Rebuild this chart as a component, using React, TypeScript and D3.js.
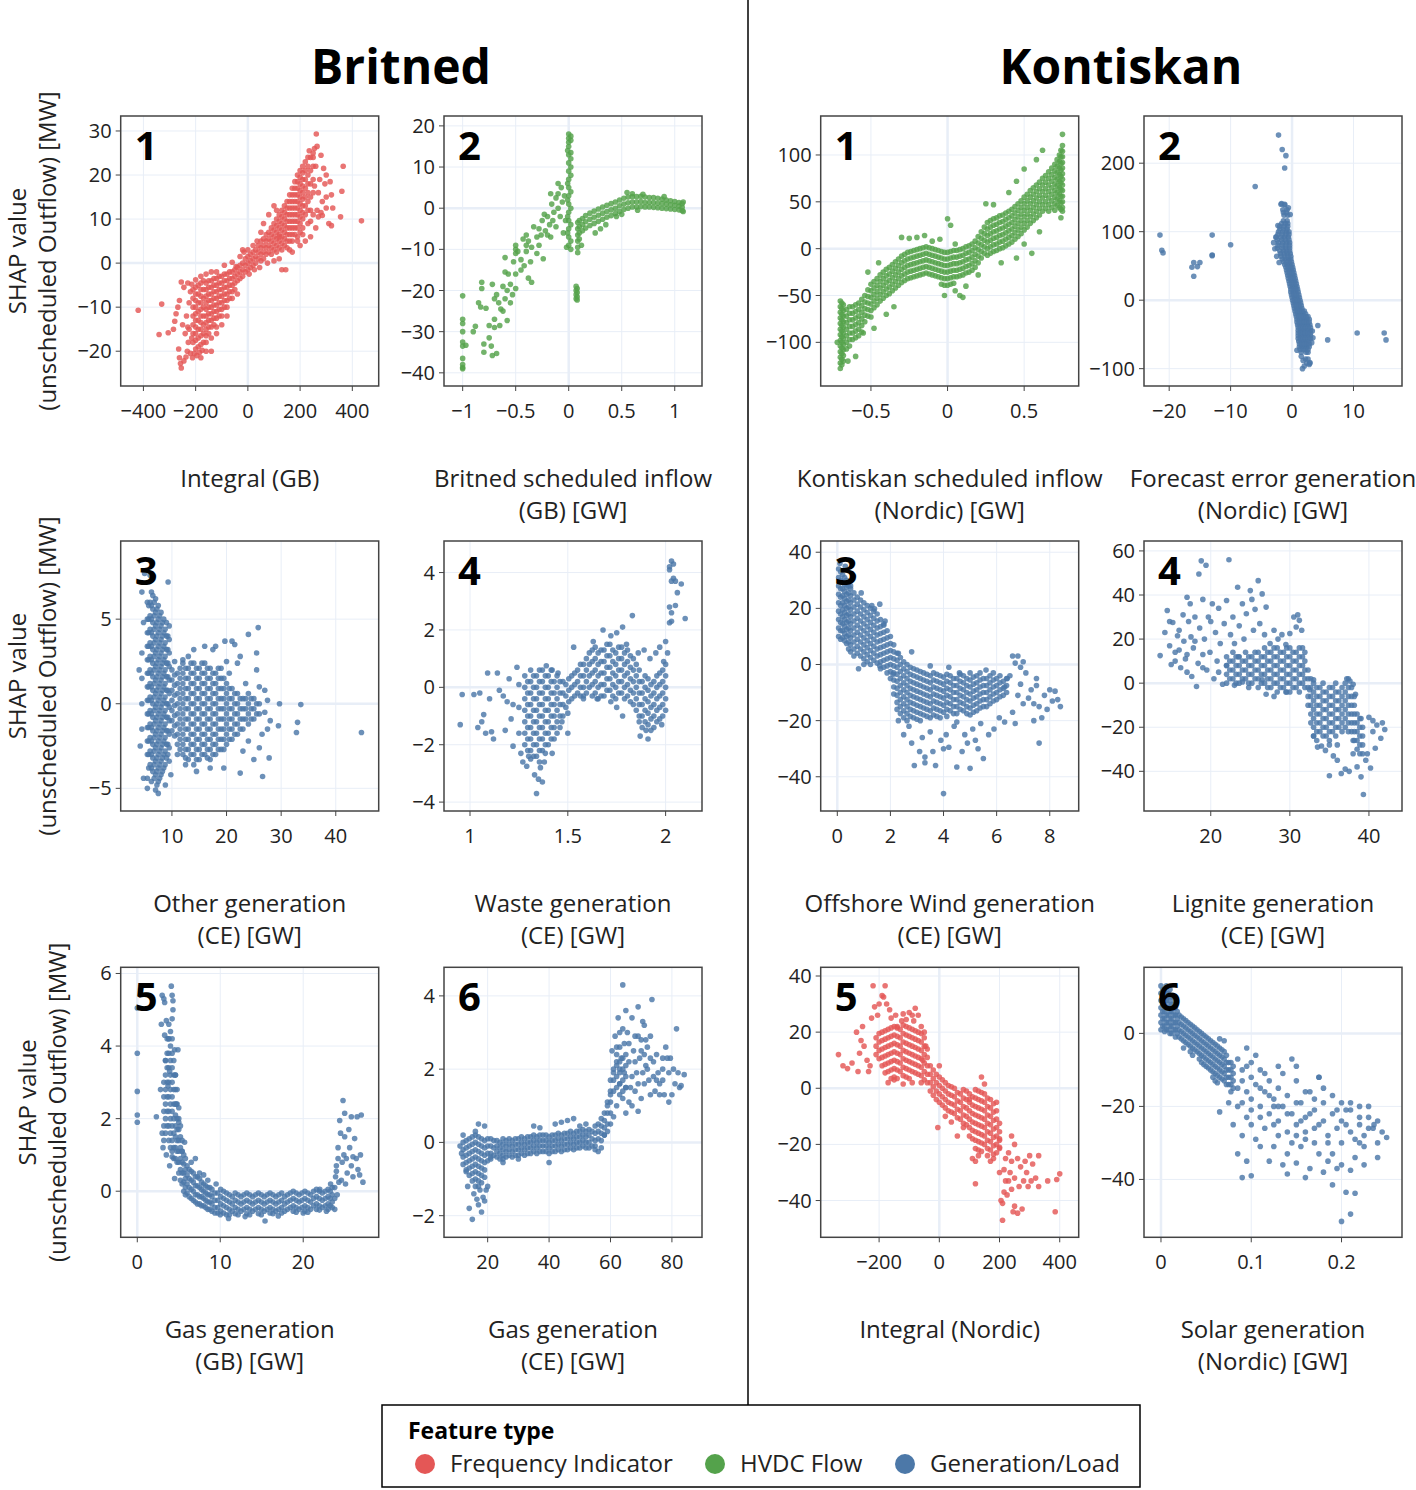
import React from 'react';
import * as d3 from 'd3';

type Col = [number, number[]];
type Pt = [number, number];

const RED = '#e45756';
const GREEN = '#54a24b';
const BLUE = '#4c78a8';

// ---------- Britned 1 : Integral (GB) ----------
const b1Cols: Col[] = [
  [-210, [-6, -8, -10, -12, -14, -16, -18]],
  [-190, [-5, -7, -9, -11, -13, -15, -17, -19]],
  [-170, [-4, -6, -8, -10, -12, -14, -16, -18]],
  [-150, [-4, -5.5, -7, -8.5, -10, -11.5, -13, -14.5, -16]],
  [-130, [-3.5, -5, -6.5, -8, -9.5, -11, -12.5, -14]],
  [-110, [-3, -4.5, -6, -7.5, -9, -10.5, -12]],
  [-90, [-2.5, -4, -5.5, -7, -8.5, -10]],
  [-70, [-2, -3.5, -5, -6.5, -8]],
  [-50, [-1.5, -3, -4.5, -6]],
  [-30, [-0.5, -2, -3.5]],
  [-10, [1, -0.5, -2]],
  [10, [2, 0.5, -1]],
  [30, [3, 1.5, 0]],
  [50, [5, 3.5, 2, 0.5]],
  [70, [6.5, 5, 3.5, 2]],
  [90, [8, 6.5, 5, 3.5, 2]],
  [110, [10, 8.5, 7, 5.5, 4, 2.5]],
  [130, [12, 10.5, 9, 7.5, 6, 4.5, 3]],
  [150, [14, 12.5, 11, 9.5, 8, 6.5, 5, 3.5]],
  [170, [17, 15.5, 14, 12.5, 11, 9.5, 8, 6.5, 5]],
  [190, [20, 18.5, 17, 15.5, 14, 12.5, 11, 9.5, 8, 6]],
  [210, [22, 20.5, 19, 17.5, 16, 14.5, 13, 11.5, 10, 8]],
  [230, [24, 22, 20, 18, 16, 14, 12]],
  [250, [25, 22, 19, 16]],
];
const b1ColsB: Col[] = [
  [-200, [-5.5, -7, -8.5, -10, -11.5, -13, -14.5, -16, -17.5]],
  [-180, [-4.5, -6, -7.5, -9, -10.5, -12, -13.5, -15, -16.5, -18.5]],
  [-160, [-4.5, -6, -7.5, -9, -10.5, -12, -13.5, -15, -16.5]],
  [-140, [-4, -5.5, -7, -8.5, -10, -11.5, -13, -14.5]],
  [-120, [-3.5, -5, -6.5, -8, -9.5, -11, -12.5]],
  [-100, [-3, -4.5, -6, -7.5, -9, -10.5]],
  [-80, [-2.5, -4, -5.5, -7, -8.5]],
  [-60, [-2, -3.5, -5, -6.5]],
  [-40, [-1, -2.5, -4]],
  [-20, [0, -1.5, -3]],
  [0, [1.5, 0, -1.5]],
  [20, [2.5, 1, -0.5]],
  [40, [4, 2.5, 1]],
  [60, [5.5, 4, 2.5, 1]],
  [80, [7, 5.5, 4, 2.5]],
  [100, [9, 7.5, 6, 4.5, 3]],
  [120, [11, 9.5, 8, 6.5, 5, 3.5]],
  [140, [13, 11.5, 10, 8.5, 7, 5.5, 4]],
  [160, [15.5, 14, 12.5, 11, 9.5, 8, 6.5, 5]],
  [180, [18.5, 17, 15.5, 14, 12.5, 11, 9.5, 8, 6.5]],
  [200, [21, 19.5, 18, 16.5, 15, 13.5, 12, 10.5, 9, 7]],
  [220, [23, 21, 19, 17, 15, 13, 11]],
  [240, [24, 21, 18, 15, 12]],
];
const b1Pts: Pt[] = [
  [-420, -10.7], [-330, -9.3], [-340, -16.2], [-305, -15.8], [-285, -15], [-280, -13.2], [-275, -11.5],
  [-268, -10], [-262, -8.5], [-255, -4.3], [-245, -5.5], [-265, -19.5], [-262, -21.5], [-255, -23.8],
  [-258, -22.8], [-245, -22.2], [-237, -21.3], [-232, -20], [-228, -18], [-240, -16], [-250, -14],
  [-235, -12], [-225, -9], [-220, -6.5], [-215, -4.8], [-230, -14.5], [-220, -20.5], [-205, -20.5],
  [-195, -21], [-185, -20.3], [-175, -19.8], [-160, -18], [-140, -17], [-120, -14.5], [-100, -12],
  [-80, -10], [-120, -2], [-90, -0.5], [-60, 0.2], [-45, -0.8], [-30, 1.5], [-15, 2.5], [0, 3],
  [5, -2.5], [25, -1.5], [45, -1], [75, 0], [100, 0.5], [120, 1], [130, -1.5], [145, -1.5], [170, 2.5],
  [200, 4], [220, 5], [240, 6], [260, 8], [240, 9.5], [270, 10.5], [285, 10.8], [300, 12.5], [300, 15],
  [310, 9], [320, 8.5], [325, 12.5], [355, 10.5], [360, 16.3], [365, 22], [435, 9.6], [320, 15.5],
  [315, 18.5], [300, 20], [290, 21.5], [280, 24.5], [275, 19], [265, 26.5], [262, 29.3], [255, 26],
  [250, 24], [235, 25.5], [260, 22], [270, 16], [285, 14], [295, 18], [255, 17.5], [265, 12], [280, 11.5],
  [250, 11], [230, 9], [210, 6.5], [190, 5], [160, 3], [120, 6], [110, 12], [100, 13], [80, 11], [60, 9],
  [50, 7], [35, 5], [20, 4], [-20, 3], [-40, -7], [-60, -8], [-80, -12], [-100, -14], [-120, -16],
  [-140, -20], [-160, -20], [-180, -21.5], [-200, -19.5], [-215, -17], [-225, -15], [-212, -21.5],
  [-230, -4.5], [-200, -3.8], [-180, -3], [-160, -2.5], [-140, -2],
];

// ---------- Britned 2 : Britned scheduled inflow ----------
const b2Cols: Col[] = [
  [0.085, [-3.5, -5, -6.5, -8, -9.5, -10.8]],
  [0.1, [-3, -4.5, -6, -7.5]],
  [0.13, [-2.5, -4, -5.5]],
  [0.16, [-1.8, -3.3, -4.8]],
  [0.2, [-1.2, -2.7, -4.2]],
  [0.24, [-0.7, -2.2, -3.7]],
  [0.28, [-0.2, -1.7, -3.2]],
  [0.32, [0.3, -1.2, -2.7]],
  [0.36, [0.7, -0.8, -2.2]],
  [0.4, [1.1, -0.4, -1.8]],
  [0.44, [1.5, 0, -1.3]],
  [0.48, [2, 0.6, -0.8]],
  [0.52, [2.4, 1, -0.3]],
  [0.56, [2.7, 1.3, 0]],
  [0.6, [2.8, 1.5, 0.3]],
  [0.64, [2.8, 1.5, 0.3]],
  [0.68, [2.9, 1.6, 0.4]],
  [0.72, [2.7, 1.4, 0.3]],
  [0.76, [2.6, 1.4, 0.3]],
  [0.8, [2.6, 1.4, 0.2]],
  [0.84, [2.4, 1.2, 0.1]],
  [0.88, [2.2, 1.1, 0]],
  [0.92, [2, 1, -0.1]],
  [0.96, [1.8, 0.8, -0.2]],
  [1.0, [1.6, 0.7, -0.3]],
  [1.04, [1.4, 0.5, -0.4]],
  [1.07, [1.1, 0.2, -0.6]],
  [0.0, [18, 17, 16, 15, 13, 11, 9, 7, 5, 3, 1, -1, -3, -5, -7, -9]],
  [0.02, [17.5, 16.5, 13.5, 12, 10, 8, 4, 0, -4, -8, -10]],
  [-0.01, [14, 6, 2, -2, -6]],
  [0.07, [-19, -20, -21, -22]],
  [0.08, [-19.5, -20.5, -21.5, -22.3]],
];
const b2Pts: Pt[] = [
  [-1, -21.3], [-1, -27], [-1, -28], [-1, -30], [-1, -32.5], [-1, -33.5], [-1, -36.5], [-1, -38],
  [-1, -38.7], [-1, -39], [-0.97, -33.3], [-0.9, -30], [-0.88, -28.7], [-0.85, -23], [-0.83, -24],
  [-0.82, -18], [-0.82, -19.5], [-0.8, -35], [-0.8, -33], [-0.78, -24.3], [-0.75, -28.5], [-0.75, -31.5],
  [-0.73, -33.5], [-0.72, -35.8], [-0.72, -18.5], [-0.7, -22], [-0.7, -27], [-0.7, -29], [-0.68, -35.3],
  [-0.68, -21], [-0.66, -23], [-0.65, -28.5], [-0.64, -24.5], [-0.62, -19], [-0.62, -25], [-0.6, -12],
  [-0.6, -15.5], [-0.6, -22], [-0.58, -27.3], [-0.58, -20], [-0.57, -16], [-0.55, -23], [-0.55, -18.5],
  [-0.53, -21], [-0.52, -13], [-0.5, -9], [-0.5, -10], [-0.5, -11], [-0.5, -16], [-0.5, -19.5],
  [-0.48, -10.5], [-0.45, -12.5], [-0.45, -15], [-0.43, -7.5], [-0.42, -14], [-0.4, -6.5], [-0.4, -9],
  [-0.4, -10.5], [-0.38, -8], [-0.38, -17], [-0.36, -13], [-0.35, -18], [-0.35, -9.5], [-0.33, -4.5],
  [-0.3, -7], [-0.3, -11], [-0.28, -5], [-0.28, -9], [-0.26, -6.5], [-0.25, -3], [-0.24, -12.3],
  [-0.22, -5.5], [-0.2, -2], [-0.2, -6.5], [-0.18, -4], [-0.17, -7], [-0.16, 1], [-0.15, -3], [-0.14, -1],
  [-0.12, 2.5], [-0.12, -4.5], [-0.1, 0], [-0.1, 3.5], [-0.08, -2], [-0.07, 5], [-0.06, 1.5], [-0.05, -6],
  [-0.04, 3], [-0.03, -3], [-0.02, -9.5], [-0.1, 6], [-0.17, 3.5], [-0.23, -1.5],
  [0.12, -9], [0.25, -6], [0.3, -5], [0.35, -4], [0.45, -2], [0.55, 3.8], [0.6, 3.5], [0.7, 3.4],
  [0.9, 2.8], [0.5, -1.5], [0.65, -0.5], [1.08, -0.8], [1.08, 1.5],
];

// ---------- Kontiskan 1 : Kontiskan scheduled inflow ----------
const k1Cols: Col[] = [
  [-0.7, [-56, -62, -68, -74, -80, -86, -92, -98, -104, -110, -116, -122, -128]],
  [-0.68, [-60, -66, -72, -78, -84, -90, -96, -102, -108, -114, -120]],
  [-0.66, [-65, -72, -79, -86, -93, -100, -107]],
  [-0.62, [-62, -69, -76, -83, -90, -97]],
  [-0.58, [-58, -65, -72, -79, -86, -93]],
  [-0.54, [-50, -57, -64, -71, -78]],
  [-0.5, [-38, -45, -52, -59, -66, -73]],
  [-0.46, [-32, -39, -46, -53, -60]],
  [-0.42, [-25, -32, -39, -46, -53]],
  [-0.38, [-20, -27, -34, -41, -48]],
  [-0.34, [-14, -21, -28, -35, -42]],
  [-0.3, [-8, -15, -22, -29, -36]],
  [-0.26, [-4, -11, -18, -25, -32]],
  [-0.22, [-2, -9, -16, -23, -30]],
  [-0.18, [0, -7, -14, -21, -28]],
  [-0.14, [2, -5, -12, -19, -26]],
  [-0.1, [0, -7, -14, -21, -28]],
  [-0.06, [-2, -9, -16, -23, -30]],
  [-0.02, [-4, -11, -18, -25, -32, -39]],
  [0.02, [-3, -10, -17, -24, -31, -38]],
  [0.06, [-2, -9, -16, -23, -30]],
  [0.1, [0, -7, -14, -21, -28]],
  [0.14, [3, -4, -11, -18, -25]],
  [0.18, [8, 1, -6, -13, -20]],
  [0.22, [18, 11, 4, -3, -10]],
  [0.26, [28, 21, 14, 7, 0, -7]],
  [0.3, [32, 25, 18, 11, 4, -3]],
  [0.34, [35, 28, 21, 14, 7, 0]],
  [0.38, [38, 31, 24, 17, 10, 3]],
  [0.42, [42, 35, 28, 21, 14, 7]],
  [0.46, [48, 41, 34, 27, 20, 13]],
  [0.5, [55, 48, 41, 34, 27, 20]],
  [0.54, [62, 55, 48, 41, 34, 27]],
  [0.58, [68, 61, 54, 47, 40, 33]],
  [0.62, [75, 68, 61, 54, 47, 40]],
  [0.66, [82, 75, 68, 61, 54, 47, 40]],
  [0.7, [90, 83, 76, 69, 62, 55, 48, 41]],
  [0.73, [100, 93, 86, 79, 72, 65, 58, 51, 44]],
  [0.75, [110, 104, 98, 92, 86, 80, 74, 68, 62, 56, 50, 44, 40]],
];
const k1ColsB: Col[] = [
  [-0.69, [-58, -64, -70, -76, -82, -88, -94, -100, -106, -112, -118, -124]],
  [-0.64, [-62, -69, -76, -83, -90, -97, -104]],
  [-0.6, [-60, -67, -74, -81, -88, -95]],
  [-0.56, [-54, -61, -68, -75, -82, -89]],
  [-0.52, [-44, -51, -58, -65, -72]],
  [-0.48, [-35, -42, -49, -56, -63]],
  [-0.44, [-28, -35, -42, -49, -56]],
  [-0.4, [-22, -29, -36, -43, -50]],
  [-0.36, [-17, -24, -31, -38, -45]],
  [-0.32, [-11, -18, -25, -32, -39]],
  [-0.28, [-6, -13, -20, -27, -34]],
  [-0.24, [-3, -10, -17, -24, -31]],
  [-0.2, [-1, -8, -15, -22, -29]],
  [-0.16, [1, -6, -13, -20, -27]],
  [-0.12, [1, -6, -13, -20, -27]],
  [-0.08, [-1, -8, -15, -22, -29]],
  [-0.04, [-3, -10, -17, -24, -31, -38]],
  [0, [-4, -11, -18, -25, -32, -39]],
  [0.04, [-2, -9, -16, -23, -30, -37]],
  [0.08, [-1, -8, -15, -22, -29]],
  [0.12, [2, -5, -12, -19, -26]],
  [0.16, [5, -2, -9, -16, -23]],
  [0.2, [13, 6, -1, -8, -15]],
  [0.24, [23, 16, 9, 2, -5]],
  [0.28, [30, 23, 16, 9, 2, -5]],
  [0.32, [33, 26, 19, 12, 5, -2]],
  [0.36, [36, 29, 22, 15, 8, 1]],
  [0.4, [40, 33, 26, 19, 12, 5]],
  [0.44, [45, 38, 31, 24, 17, 10]],
  [0.48, [51, 44, 37, 30, 23, 16]],
  [0.52, [58, 51, 44, 37, 30, 23]],
  [0.56, [65, 58, 51, 44, 37, 30]],
  [0.6, [71, 64, 57, 50, 43, 36]],
  [0.64, [78, 71, 64, 57, 50, 43]],
  [0.68, [86, 79, 72, 65, 58, 51, 44]],
  [0.715, [95, 88, 81, 74, 67, 60, 53, 46]],
  [0.74, [105, 98, 91, 84, 77, 70, 63, 56, 49, 42]],
];
const k1Pts: Pt[] = [
  [-0.72, -100], [-0.55, -90], [-0.6, -115], [-0.45, -15], [-0.35, -62], [-0.3, 12], [-0.25, 11],
  [-0.2, 12], [-0.15, 14], [-0.1, 8], [-0.05, 10], [0, 32], [0.02, 25], [0.05, 5], [0.08, -50],
  [0.1, -52], [0.05, -45], [-0.02, -50], [0.12, -40], [0.2, -28], [0.25, 48], [0.3, 47], [0.35, -15],
  [0.45, -10], [0.4, 60], [0.45, 72], [0.55, -5], [0.5, 85], [0.58, 95], [0.62, 105], [0.75, 122],
  [0.74, 33], [0.6, 18], [0.5, 5], [-0.48, -85], [-0.4, -70], [-0.52, -25], [-0.65, -120],
];

// ---------- Kontiskan 2 : Forecast error generation ----------
const k2Rows: Col[] = [
  [140, [-1.8, -1.2]], [132, [-1.5, -0.8]], [124, [-1.3, -0.7]], [116, [-1.4, -0.8]],
  [108, [-2, -1.3, -0.7]], [100, [-2.2, -1.5, -0.9, -0.5]], [92, [-2.6, -1.8, -1.2, -0.6]],
  [84, [-2.2, -1.5, -0.9, -0.4]], [76, [-2.4, -1.6, -1, -0.4]], [68, [-1.9, -1.3, -0.8, -0.3]],
  [60, [-1.6, -1.1, -0.6, -0.2]], [52, [-1.2, -0.8, -0.4, 0]], [44, [-0.9, -0.5, -0.1, 0.2]],
  [36, [-0.7, -0.3, 0.1, 0.4]], [28, [-0.5, -0.1, 0.3, 0.6]], [20, [-0.3, 0.1, 0.5, 0.8]],
  [12, [-0.2, 0.2, 0.6, 1]], [4, [0, 0.4, 0.8, 1.2]], [-4, [0.2, 0.6, 1, 1.4]],
  [-12, [0.4, 0.8, 1.2, 1.6]], [-20, [0.6, 1, 1.4, 1.8, 2.2]], [-28, [0.8, 1.2, 1.6, 2, 2.4, 2.8]],
  [-36, [0.9, 1.3, 1.7, 2.1, 2.5, 2.9]], [-44, [1, 1.4, 1.8, 2.2, 2.6, 3]],
  [-52, [1, 1.4, 1.8, 2.2, 2.6, 3]], [-60, [1.1, 1.5, 1.9, 2.3, 2.7]], [-68, [1.2, 1.6, 2, 2.4, 2.8]],
  [-76, [1.5, 2.3, 2.6]], [-86, [2.2, 2.6]], [-92, [2.4, 2.9]],
];
const k2RowsB: Col[] = [
  [128, [-1.4, -0.9]], [112, [-1.7, -1.1, -0.7]], [104, [-2, -1.4, -0.8]], [96, [-2.3, -1.6, -1, -0.5]],
  [88, [-2.4, -1.7, -1.1, -0.5]], [80, [-2.3, -1.6, -1, -0.4]], [72, [-2, -1.4, -0.9, -0.4]],
  [64, [-1.8, -1.2, -0.7, -0.2]], [56, [-1.4, -0.9, -0.5, -0.1]], [48, [-1, -0.6, -0.2, 0.1]],
  [40, [-0.8, -0.4, 0, 0.3]], [32, [-0.6, -0.2, 0.2, 0.5]], [24, [-0.4, 0, 0.4, 0.7]],
  [16, [-0.2, 0.2, 0.6, 0.9]], [8, [-0.1, 0.3, 0.7, 1.1]], [0, [0.1, 0.5, 0.9, 1.3]],
  [-8, [0.3, 0.7, 1.1, 1.5]], [-16, [0.5, 0.9, 1.3, 1.7, 2]], [-24, [0.7, 1.1, 1.5, 1.9, 2.3, 2.6]],
  [-32, [0.8, 1.2, 1.6, 2, 2.4, 2.8]], [-40, [1, 1.4, 1.8, 2.2, 2.6, 3]], [-48, [1, 1.4, 1.8, 2.2, 2.6, 3]],
  [-56, [1, 1.4, 1.8, 2.2, 2.6, 3]], [-64, [1.2, 1.6, 2, 2.4, 2.8]], [-72, [1.3, 1.8, 2.2, 2.6]],
];
const k2Pts: Pt[] = [
  [-2.2, 241], [-1.6, 220], [-1, 211], [-1.2, 193], [-6, 166], [-1.7, 141], [-1.2, 139], [-0.6, 135],
  [-0.3, 125], [-2.3, 109], [-2.6, 92], [-3, 84], [-2.8, 75], [-2.5, 64], [-2.1, 55], [-21.5, 95],
  [-21.2, 73], [-21, 69], [-16.3, 48], [-16, 55], [-15.4, 49], [-15, 55], [-16, 35], [-13, 95],
  [-13, 66], [-13, 65], [-10, 81], [4.2, -37], [5.8, -58], [10.6, -48], [15, -48], [15.3, -58],
  [0.8, -73], [1.5, -82], [1.8, -88], [2.8, -94], [2.9, -91], [1.7, -100], [2, -96], [3.3, -45],
  [3.4, -55], [3.2, -62],
];

// ---------- Britned 3 : Other generation (CE) ----------
const b3Cols: Col[] = [
  [4.5, [3, 1.5, 0, -1.5]],
  [5.5, [6, 5, 4.2, 3.4, 2.6, 1.8, 1, 0.2, -0.6, -1.4, -2.2, -3, -4.4]],
  [6, [6, 5.2, 4.4, 3.6, 2.8, 2, 1.2, 0.4, -0.4, -1.2, -2, -2.8, -3.6]],
  [6.5, [6.4, 5.6, 4.8, 4, 3.2, 2.4, 1.6, 0.8, 0, -0.8, -1.6, -2.4, -3.2, -4]],
  [7, [6.2, 5.4, 4.6, 3.8, 3, 2.2, 1.4, 0.6, -0.2, -1, -1.8, -2.6, -3.4, -4.2]],
  [7.5, [5.8, 5, 4.2, 3.4, 2.6, 1.8, 1, 0.2, -0.6, -1.4, -2.2, -3, -3.8, -4.6]],
  [8, [5.4, 4.6, 3.8, 3, 2.2, 1.4, 0.6, -0.2, -1, -1.8, -2.6, -3.4, -4.2]],
  [8.5, [5, 4.2, 3.4, 2.6, 1.8, 1, 0.2, -0.6, -1.4, -2.2, -3, -3.8]],
  [9, [4.8, 4, 3.2, 2.4, 1.6, 0.8, 0, -0.8, -1.6, -2.4, -3.2]],
  [9.5, [4.6, 3.8, 3, 2.2, 1.4, 0.6, -0.2, -1, -1.8, -2.6, -3.4]],
  [10, [2, 1.4, 0.8, 0.2, -0.4, -1, -1.6]],
  [11, [1.8, 1.2, 0.6, 0, -0.6, -1.2, -1.8, -2.4]],
  [12, [2.4, 1.8, 1.2, 0.6, 0, -0.6, -1.2, -1.8, -2.4, -3]],
  [13, [2.1, 1.5, 0.9, 0.3, -0.3, -0.9, -1.5, -2.1, -2.7, -3.3]],
  [14, [2.4, 1.8, 1.2, 0.6, 0, -0.6, -1.2, -1.8, -2.4, -3, -3.6]],
  [15, [2.1, 1.5, 0.9, 0.3, -0.3, -0.9, -1.5, -2.1, -2.7, -3.3]],
  [16, [2.4, 1.8, 1.2, 0.6, 0, -0.6, -1.2, -1.8, -2.4, -3]],
  [17, [2.1, 1.5, 0.9, 0.3, -0.3, -0.9, -1.5, -2.1, -2.7, -3.3]],
  [18, [1.8, 1.2, 0.6, 0, -0.6, -1.2, -1.8, -2.4, -3]],
  [19, [2.1, 1.5, 0.9, 0.3, -0.3, -0.9, -1.5, -2.1, -2.7]],
  [20, [1.2, 0.6, 0, -0.6, -1.2, -1.8, -2.4]],
  [21, [0.9, 0.3, -0.3, -0.9, -1.5, -2.1]],
  [22, [0.6, 0, -0.6, -1.2, -1.8]],
  [23, [0.3, -0.3, -0.9, -1.5]],
  [24, [0.6, 0, -0.6, -1.2]],
  [25, [0.3, -0.3, -0.9]],
  [26, [0, -0.6]],
];
const b3ColsB: Col[] = [
  [5.75, [5.8, 5, 4.2, 3.4, 2.6, 1.8, 1, 0.2, -0.6, -1.4, -2.2, -3, -3.8]],
  [6.25, [6.6, 5.8, 5, 4.2, 3.4, 2.6, 1.8, 1, 0.2, -0.6, -1.4, -2.2, -3, -3.8, -4.6]],
  [6.75, [6, 5.2, 4.4, 3.6, 2.8, 2, 1.2, 0.4, -0.4, -1.2, -2, -2.8, -3.6, -4.4]],
  [7.25, [5.6, 4.8, 4, 3.2, 2.4, 1.6, 0.8, 0, -0.8, -1.6, -2.4, -3.2, -4, -4.8]],
  [7.75, [5.2, 4.4, 3.6, 2.8, 2, 1.2, 0.4, -0.4, -1.2, -2, -2.8, -3.6, -4.4]],
  [8.25, [4.8, 4, 3.2, 2.4, 1.6, 0.8, 0, -0.8, -1.6, -2.4, -3.2, -4]],
  [8.75, [4.4, 3.6, 2.8, 2, 1.2, 0.4, -0.4, -1.2, -2, -2.8, -3.6]],
  [9.25, [4, 3.2, 2.4, 1.6, 0.8, 0, -0.8, -1.6, -2.4, -3]],
  [10.5, [1.7, 1.1, 0.5, -0.1, -0.7, -1.3, -1.9]],
  [11.5, [2.1, 1.5, 0.9, 0.3, -0.3, -0.9, -1.5, -2.1, -2.7]],
  [12.5, [2.1, 1.5, 0.9, 0.3, -0.3, -0.9, -1.5, -2.1, -2.7, -3.2]],
  [13.5, [2.4, 1.8, 1.2, 0.6, 0, -0.6, -1.2, -1.8, -2.4, -3]],
  [14.5, [2.1, 1.5, 0.9, 0.3, -0.3, -0.9, -1.5, -2.1, -2.7, -3.3]],
  [15.5, [2.4, 1.8, 1.2, 0.6, 0, -0.6, -1.2, -1.8, -2.4, -3]],
  [16.5, [2.1, 1.5, 0.9, 0.3, -0.3, -0.9, -1.5, -2.1, -2.7, -3.2]],
  [17.5, [1.8, 1.2, 0.6, 0, -0.6, -1.2, -1.8, -2.4, -3]],
  [18.5, [2.1, 1.5, 0.9, 0.3, -0.3, -0.9, -1.5, -2.1, -2.7]],
  [19.5, [1.5, 0.9, 0.3, -0.3, -0.9, -1.5, -2.1, -2.7]],
  [20.5, [0.9, 0.3, -0.3, -0.9, -1.5, -2.1]],
  [21.5, [0.6, 0, -0.6, -1.2, -1.8]],
  [22.5, [0.3, -0.3, -0.9, -1.5]],
  [23.5, [0.3, -0.3, -0.9]],
  [24.5, [0.3, -0.3, -0.9]],
  [25.5, [0, -0.6]],
];
const b3Pts: Pt[] = [
  [5, 7.7], [6, 7.6], [9.3, 7.2], [4.5, 6.6], [5.5, -5], [7.5, -5.3], [7, -5.1], [8.8, -4.8], [4.8, -4.4],
  [12, 2.6], [13, 2.8], [14, 3.2], [16, 3.4], [17.5, 3.2], [18, 3.4], [19.7, 3.7], [21, 3.7], [22.5, 2.8],
  [24, 4.1], [25.8, 4.5], [25.5, 3], [21.5, 3.5], [22, 2.4], [20, 2.5], [25.5, 2], [26, 1], [27, 0.8],
  [27.5, 0.2], [27, -0.5], [28, -1], [27.5, -1.5], [29.7, 0], [29.5, -1.3], [26.5, -1.8], [26, -2.6],
  [27.8, -3.2], [26.6, -4.3], [22.5, -4.1], [19.5, -3.8], [14.5, -4], [12.5, -3.6], [25, -3.3],
  [23, -2.8], [32.8, -1.7], [33, -1.1], [33.6, -0.05], [44.7, -1.7], [24, -2.2], [17, -3.8],
  [4, 2], [4.2, -2.5], [4.8, 4.8], [9.8, -4.2], [10.5, 2.5], [11, -3], [20.5, 1.8], [23.5, 1.2],
];

// ---------- Britned 4 : Waste generation (CE) ----------
const b4Cols: Col[] = [
  [1.28, [0.4, 0, -0.4, -0.8, -1.2, -1.6, -2]],
  [1.31, [0.6, 0.2, -0.2, -0.6, -1, -1.4, -1.8, -2.2]],
  [1.34, [0.4, 0, -0.4, -0.8, -1.2, -1.6, -2, -2.4]],
  [1.37, [0.6, 0.2, -0.2, -0.6, -1, -1.4, -1.8, -2.2]],
  [1.4, [0.4, 0, -0.4, -0.8, -1.2, -1.6, -2]],
  [1.43, [0.2, -0.2, -0.6, -1, -1.4, -1.8]],
  [1.46, [0.2, -0.2, -0.6, -1, -1.4]],
  [1.49, [0.1, -0.3, -0.7]],
  [1.52, [0.4, 0, -0.4]],
  [1.55, [0.6, 0.2, -0.2]],
  [1.58, [0.8, 0.4, 0, -0.3]],
  [1.61, [1.2, 0.8, 0.4, 0]],
  [1.64, [1.4, 1, 0.6, 0.2, -0.2]],
  [1.67, [1.3, 0.9, 0.5, 0.1, -0.3]],
  [1.7, [1.5, 1.1, 0.7, 0.3, -0.1]],
  [1.73, [1.3, 0.9, 0.5, 0.1, -0.3]],
  [1.76, [1.4, 1, 0.6, 0.2, -0.2]],
  [1.79, [1.2, 0.8, 0.4, 0, -0.4]],
  [1.82, [1.1, 0.7, 0.3, -0.1, -0.5]],
  [1.85, [0.8, 0.4, 0, -0.4, -0.8]],
  [1.88, [0.2, -0.2, -0.6, -1, -1.4]],
  [1.91, [0.3, -0.1, -0.5, -0.9, -1.3]],
  [1.94, [0.2, -0.2, -0.6, -1, -1.4]],
  [1.97, [0.5, 0.1, -0.3, -0.7, -1.1]],
  [2.0, [0.8, 0.4, 0, -0.4, -0.8]],
];
const b4ColsB: Col[] = [
  [1.295, [0.2, -0.2, -0.6, -1, -1.4, -1.8, -2.2]],
  [1.325, [0.4, 0, -0.4, -0.8, -1.2, -1.6, -2, -2.4]],
  [1.355, [0.6, 0.2, -0.2, -0.6, -1, -1.4, -1.8, -2.2, -2.6]],
  [1.385, [0.4, 0, -0.4, -0.8, -1.2, -1.6, -2, -2.3]],
  [1.415, [0.6, 0.2, -0.2, -0.6, -1, -1.4, -1.8]],
  [1.445, [0.4, 0, -0.4, -0.8, -1.2, -1.6]],
  [1.475, [0.2, -0.2, -0.6, -1]],
  [1.505, [0.3, -0.1, -0.5]],
  [1.535, [0.5, 0.1, -0.3]],
  [1.565, [0.8, 0.4, 0, -0.3]],
  [1.595, [1, 0.6, 0.2, -0.2]],
  [1.625, [1.3, 0.9, 0.5, 0.1, -0.3]],
  [1.655, [1.2, 0.8, 0.4, 0, -0.4]],
  [1.685, [1.3, 0.9, 0.5, 0.1, -0.3]],
  [1.715, [1.5, 1.1, 0.7, 0.3, -0.1]],
  [1.745, [1.2, 0.8, 0.4, 0, -0.4]],
  [1.775, [1.4, 1, 0.6, 0.2, -0.2]],
  [1.805, [1.3, 0.9, 0.5, 0.1, -0.3]],
  [1.835, [1, 0.6, 0.2, -0.2, -0.6]],
  [1.865, [0.6, 0.2, -0.2, -0.6, -1, -1.2]],
  [1.895, [0.4, 0, -0.4, -0.8, -1.2]],
  [1.925, [0.1, -0.3, -0.7, -1.1, -1.5]],
  [1.955, [0.4, 0, -0.4, -0.8, -1.2]],
  [1.985, [0.6, 0.2, -0.2, -0.6, -1]],
];
const b4Pts: Pt[] = [
  [0.95, -1.3], [0.96, -0.25], [1.02, -0.25], [1.05, -0.2], [1.04, -1.4], [1.06, -1.2], [1.07, -0.95],
  [1.08, -1.6], [1.09, 0.5], [1.1, -0.4], [1.12, -1.8], [1.11, -1.55], [1.14, 0.5], [1.15, -0.1],
  [1.17, -0.3], [1.18, -1.5], [1.19, -0.5], [1.2, 0.3], [1.21, -1.1], [1.22, -2.05], [1.24, 0.7],
  [1.25, -1.6], [1.25, -0.7], [1.26, -2.3], [1.27, -2.6], [1.29, -2.75], [1.31, -2.5], [1.33, -3.05],
  [1.35, -3.2], [1.37, -3.3], [1.34, -3.7], [1.36, -2.8], [1.39, 0.75], [1.42, 0.6], [1.45, 0.5],
  [1.47, -1.2], [1.5, -1.6], [1.53, 1.4], [1.5, -0.9], [1.58, -0.4], [1.63, 1.6], [1.65, -0.4],
  [1.68, 2], [1.72, 1.8], [1.75, 1.9], [1.78, 2.1], [1.8, 1.5], [1.83, 2.5], [1.78, -1], [1.75, -0.7],
  [1.72, -0.5], [1.86, 1.2], [1.89, 1.3], [1.92, 1], [1.95, 1.2], [1.97, 1.4], [1.98, -1.3],
  [1.91, -1.8], [1.9, -1.5], [1.87, -1.7], [2.02, 4.2], [2.03, 4.4], [2.04, 4.3], [2.02, 4.1],
  [2.03, 3.7], [2.04, 3.8], [2.05, 3.7], [2.02, 2.8], [2.03, 2.6], [2.05, 2.85], [2.03, 2.3],
  [2.02, 2.25], [2.06, 3.3], [2.08, 3.6], [2.1, 2.4], [2.01, 1.2], [2.0, 1.6], [1.99, 0.9],
  [1.3, -2.4], [1.38, -2.6], [1.42, -2.3], [1.25, 0.1], [1.22, -0.6],
];

// ---------- Kontiskan 3 : Offshore Wind generation (CE) ----------
const k3Cols: Col[] = [
  [0.05, [34, 31, 28, 25, 22, 19, 16, 13, 10]],
  [0.2, [32, 29.5, 27, 24.5, 22, 19.5, 17, 14.5, 12, 9.5]],
  [0.35, [30, 27.5, 25, 22.5, 20, 17.5, 15, 12.5, 10, 7.5]],
  [0.5, [27, 24.5, 22, 19.5, 17, 14.5, 12, 9.5, 7, 4.5]],
  [0.75, [24, 21.5, 19, 16.5, 14, 11.5, 9, 6.5, 4]],
  [1.0, [22, 19.5, 17, 14.5, 12, 9.5, 7, 4.5, 2]],
  [1.25, [20, 17.5, 15, 12.5, 10, 7.5, 5, 2.5, 0]],
  [1.5, [18, 15.5, 13, 10.5, 8, 5.5, 3, 0.5]],
  [1.75, [14, 11.5, 9, 6.5, 4, 1.5, -1]],
  [2.0, [10, 7.5, 5, 2.5, 0, -2.5, -5]],
  [2.25, [4, 1.5, -1, -3.5, -6, -8.5, -11, -13.5, -16]],
  [2.5, [1, -1.5, -4, -6.5, -9, -11.5, -14, -16.5, -19]],
  [2.75, [-1, -3.5, -6, -8.5, -11, -13.5, -16, -18.5]],
  [3.0, [-2, -4.5, -7, -9.5, -12, -14.5, -17, -19.5]],
  [3.25, [-3, -5.5, -8, -10.5, -13, -15.5, -18]],
  [3.5, [-4, -6.5, -9, -11.5, -14, -16.5, -19]],
  [3.75, [-3.5, -6, -8.5, -11, -13.5, -16, -18.5]],
  [4.0, [-4.5, -7, -9.5, -12, -14.5, -17]],
  [4.25, [-4, -6.5, -9, -11.5, -14, -16.5]],
  [4.5, [-5, -7.5, -10, -12.5, -15, -17.5]],
  [4.75, [-4, -6.5, -9, -11.5, -14, -16.5]],
  [5.0, [-3, -5.5, -8, -10.5, -13, -15.5, -18]],
  [5.25, [-4, -6.5, -9, -11.5, -14, -16.5]],
  [5.5, [-5, -7.5, -10, -12.5, -15]],
  [5.75, [-4, -6.5, -9, -11.5, -14]],
  [6.0, [-5, -7.5, -10, -12.5]],
  [6.25, [-6, -8.5, -11]],
];
const k3ColsB: Col[] = [
  [0.125, [33, 30, 27, 24, 21, 18, 15, 12, 9]],
  [0.275, [31, 28.5, 26, 23.5, 21, 18.5, 16, 13.5, 11, 8.5]],
  [0.425, [28, 25.5, 23, 20.5, 18, 15.5, 13, 10.5, 8, 5.5]],
  [0.625, [25.5, 23, 20.5, 18, 15.5, 13, 10.5, 8, 5.5, 3]],
  [0.875, [23, 20.5, 18, 15.5, 13, 10.5, 8, 5.5, 3]],
  [1.125, [21, 18.5, 16, 13.5, 11, 8.5, 6, 3.5, 1]],
  [1.375, [19, 16.5, 14, 11.5, 9, 6.5, 4, 1.5]],
  [1.625, [16, 13.5, 11, 8.5, 6, 3.5, 1, -1.5]],
  [1.875, [12, 9.5, 7, 4.5, 2, -0.5, -3]],
  [2.125, [7, 4.5, 2, -0.5, -3, -5.5, -8, -10.5]],
  [2.375, [2.5, 0, -2.5, -5, -7.5, -10, -12.5, -15, -17.5]],
  [2.625, [0, -2.5, -5, -7.5, -10, -12.5, -15, -17.5, -20]],
  [2.875, [-1.5, -4, -6.5, -9, -11.5, -14, -16.5, -19]],
  [3.125, [-2.5, -5, -7.5, -10, -12.5, -15, -17.5, -20]],
  [3.375, [-3.5, -6, -8.5, -11, -13.5, -16, -18.5]],
  [3.625, [-3, -5.5, -8, -10.5, -13, -15.5, -18]],
  [3.875, [-4, -6.5, -9, -11.5, -14, -16.5, -19]],
  [4.125, [-3.5, -6, -8.5, -11, -13.5, -16, -18.5]],
  [4.375, [-5, -7.5, -10, -12.5, -15, -17.5]],
  [4.625, [-3.5, -6, -8.5, -11, -13.5, -16]],
  [4.875, [-5, -7.5, -10, -12.5, -15, -17.5]],
  [5.125, [-4.5, -7, -9.5, -12, -14.5, -17]],
  [5.375, [-3, -5.5, -8, -10.5, -13, -15.5]],
  [5.625, [-5, -7.5, -10, -12.5, -15]],
  [5.875, [-3, -5.5, -8, -10.5, -13]],
  [6.125, [-4, -6.5, -9, -11.5]],
  [6.375, [-5, -7.5, -10]],
];
const k3Pts: Pt[] = [
  [0.5, 28], [0.9, 25.5], [1.3, 21], [1.6, 21.5], [1.4, 19.8], [1.8, 15.5], [1.75, 14.5], [0.8, -1.5],
  [1, 0], [1.6, -0.5], [2.1, -3.5], [2.3, 4], [2.8, 4.5], [2.3, -20], [2.5, -25], [2.7, -22], [2.8, -28],
  [2.9, -36], [3.1, -31], [3.2, -26], [3.3, -35], [3.3, -33], [3.5, -24], [3.6, -31], [3.7, -36],
  [3.9, -27], [4, -30], [4.1, -25], [4.2, -29.5], [4.4, -22], [4.5, -36.5], [4.5, -20.5], [4.7, -31],
  [4.8, -25], [4.9, -28], [5, -37], [5.1, -23], [5.2, -27], [5.3, -30], [5.5, -33.5], [5.4, -21],
  [5.7, -25], [5.9, -23], [6.1, -19], [6.3, -20.5], [4, -46], [3.5, -0.5], [4.2, -1], [4.6, -3],
  [5.6, -2], [6.4, -5], [6.6, 3], [6.8, 3], [7, 1], [6.7, 0.5], [6.5, -4], [6.9, -7], [7.1, -3],
  [7.3, -9], [7.5, -5], [7.2, -12], [7.4, -14], [6.8, -11], [6.6, -17], [6.7, -21], [7.6, -15],
  [7.8, -11], [8, -9], [8.1, -13], [8.3, -12.5], [8.4, -15], [7.9, -16], [7.6, -28], [7.4, -20],
  [7.7, -19], [8.2, -9.5], [7, -14], [6.3, -8], [6.9, -1], [7.5, -7.5], [0.1, 36], [0.3, 35],
];

// ---------- Kontiskan 4 : Lignite generation (CE) ----------
const k4Cols: Col[] = [
  [22, [12, 8, 4, 0]], [22.8, [14, 10, 6, 2]], [23.6, [12, 8, 4, 0]], [24.4, [14, 10, 6, 2]],
  [25.2, [12, 8, 4, 0]], [26, [14, 10, 6, 2, -2]], [26.8, [16, 12, 8, 4, 0]], [27.6, [14, 10, 6, 2, -2]],
  [28.4, [16, 12, 8, 4, 0, -4]], [29.2, [14, 10, 6, 2, -2]], [30, [16, 12, 8, 4, 0, -4]],
  [30.8, [14, 10, 6, 2, -2]], [31.6, [16, 12, 8, 4, 0]], [32.3, [6, 2, -2, -6, -10]],
  [33, [0, -4, -8, -12, -16, -20, -24]], [33.8, [-2, -6, -10, -14, -18, -22]],
  [34.6, [-4, -8, -12, -16, -20, -24]], [35.4, [-2, -6, -10, -14, -18, -22]],
  [36.2, [-4, -8, -12, -16, -20]], [37, [0, -4, -8, -12, -16, -20]],
  [37.8, [-2, -6, -10, -14, -18, -22]], [38.5, [-14, -18, -22, -26, -30]], [39.2, [-20, -24, -28, -32]],
];
const k4ColsB: Col[] = [
  [22.4, [10, 6, 2]], [23.2, [12, 8, 4, 0]], [24, [10, 6, 2]], [24.8, [12, 8, 4, 0]],
  [25.6, [14, 10, 6, 2]], [26.4, [12, 8, 4, 0]], [27.2, [14, 10, 6, 2, -2]], [28, [16, 12, 8, 4, 0]],
  [28.8, [14, 10, 6, 2, -2]], [29.6, [16, 12, 8, 4, 0, -4]], [30.4, [14, 10, 6, 2, -2]],
  [31.2, [16, 12, 8, 4, 0, -4]], [31.9, [14, 10, 6, 2, -2]], [32.65, [2, -2, -6, -10, -14, -18]],
  [33.4, [-2, -6, -10, -14, -18, -22, -26]], [34.2, [0, -4, -8, -12, -16, -20, -24]],
  [35, [-2, -6, -10, -14, -18, -22, -26]], [35.8, [0, -4, -8, -12, -16, -20, -24]],
  [36.6, [-2, -6, -10, -14, -18, -22]], [37.4, [2, -2, -6, -10, -14, -18, -22]],
  [38.15, [-6, -10, -14, -18, -22, -26]], [38.85, [-16, -20, -24, -28, -32]],
];
const k4Pts: Pt[] = [
  [13.6, 12.5], [14.2, 23], [14.5, 33], [14.8, 28], [15, 8.5], [15.2, 27.5], [15.5, 14], [15.8, 21.5],
  [16, 15], [16.2, 7], [16.5, 31], [16.6, 19], [16.8, 11], [17, 39], [17.2, 28], [17.4, 36], [17.5, 21],
  [17.6, 3], [17.8, 16], [18, 30], [18.2, -1.5], [18.4, 9], [18.6, 25], [18.8, 55.5], [18.5, 49.5],
  [19, 38], [19.2, 20], [19.4, 53.5], [19.5, 6], [19.7, 30], [19.9, 14], [20.2, 36], [20.4, 2],
  [20.6, 23], [20.8, 10], [21, 34], [21.2, 18], [21.5, -0.5], [21.7, 27], [22, 37.5], [22.3, 56],
  [22.5, 22], [22.8, 30], [23, 18], [23.4, 43.5], [23.6, 26], [24, 36], [24.2, 20], [24.5, 31.5],
  [24.8, -2], [25, 42], [25.2, 38], [25.4, 24], [25.6, 33.5], [26, 46.5], [26.2, 27], [26.5, 40.5],
  [26.8, 22], [27, 34.5], [27.5, 18], [28, 24], [28.5, 20], [29, 22], [29.5, 17.5], [30, 22.5],
  [30.5, 30], [31, 31], [31.2, 28.5], [31.5, 24], [30.8, 25.5], [29.5, -4], [28, -6], [27, -5],
  [26.5, 1.5], [24, 0.5], [23, -1], [19, 7], [17, 5], [15.5, 10], [14.8, 17], [16, 24], [18, 19],
  [20, 28], [22, 8], [23.5, 12], [19, 13], [17, 13], [21, 5],
  [38.5, -38], [39, -42.5], [39.3, -50.5], [39.6, -35], [40, -15.5], [40.5, -17], [41, -19],
  [41.5, -25], [42, -21], [41.7, -18], [40.8, -29.5], [40.2, -38.5], [39.8, -32], [40.5, -22],
  [39, -16], [38, -32], [37.5, -40], [37, -39], [36.5, -41], [35, -42], [34.5, -30.5], [35.5, -33],
  [36, -35], [34, -28.5], [33.5, -29], [33, -24], [37.2, 2], [37.6, 1], [38, -0.5], [38.3, -5],
  [33, 1.5], [32.5, -3], [36, -28], [38, -26], [35, -28],
];

// ---------- Britned 5 : Gas generation (GB) ----------
const b5Cols: Col[] = [
  [3.2, [3, 2.6, 2.2, 1.8, 1.4]], [3.6, [4.2, 3.8, 3.4, 3, 2.6, 2.2, 1.8]],
  [4.0, [4.4, 4, 3.6, 3.2, 2.8, 2.4, 2, 1.6, 1.2]], [4.4, [3.6, 3.2, 2.8, 2.4, 2.0, 1.6, 1.2, 0.9]],
  [4.8, [2.8, 2.4, 2, 1.7, 1.4, 1.1, 0.8]], [5.2, [1.8, 1.5, 1.2, 0.9, 0.6, 0.3]],
  [5.6, [1, 0.75, 0.5, 0.25, 0]], [6.0, [0.7, 0.45, 0.2, -0.05]], [6.5, [0.55, 0.3, 0.05, -0.2]],
  [7, [0.4, 0.15, -0.1, -0.3]], [7.5, [0.35, 0.1, -0.15, -0.35]], [8, [0.2, 0, -0.2, -0.4]],
  [8.5, [0.1, -0.1, -0.3, -0.5]], [9, [0.05, -0.15, -0.35, -0.55]], [9.7, [-0.05, -0.25, -0.45, -0.6]],
  [10.4, [0, -0.2, -0.4, -0.6]], [11.1, [-0.1, -0.3, -0.5, -0.65]], [11.8, [-0.05, -0.25, -0.45, -0.62]],
  [12.5, [-0.15, -0.35, -0.55]], [13.2, [-0.05, -0.25, -0.45, -0.62]], [13.9, [-0.15, -0.35, -0.55]],
  [14.6, [-0.05, -0.25, -0.45, -0.62]], [15.3, [-0.15, -0.35, -0.55]], [16, [-0.05, -0.25, -0.45, -0.6]],
  [16.7, [-0.15, -0.35, -0.55]], [17.4, [-0.05, -0.25, -0.45, -0.6]], [18.1, [-0.1, -0.3, -0.5]],
  [18.8, [0, -0.2, -0.4, -0.55]], [19.5, [-0.1, -0.3, -0.5]], [20.2, [0, -0.2, -0.4, -0.55]],
  [20.9, [-0.1, -0.3, -0.5]], [21.6, [0.05, -0.15, -0.35, -0.5]], [22.3, [-0.05, -0.25, -0.45]],
  [23.0, [0.05, -0.15, -0.35, -0.5]], [23.5, [0.1, -0.1, -0.3, -0.45]],
];
const b5ColsB: Col[] = [
  [3.4, [3.6, 3.2, 2.8, 2.4, 2, 1.6]], [3.8, [4.6, 4.2, 3.8, 3.4, 3, 2.6, 2.2, 1.8, 1.4]],
  [4.2, [4.2, 3.8, 3.4, 3, 2.6, 2.2, 1.8, 1.4, 1.1]], [4.6, [3.2, 2.8, 2.4, 2.1, 1.8, 1.5, 1.2, 0.9]],
  [5.0, [2.3, 2, 1.7, 1.4, 1.1, 0.8, 0.5]], [5.4, [1.4, 1.1, 0.8, 0.5, 0.2]],
  [5.8, [0.9, 0.6, 0.35, 0.1, -0.1]], [6.25, [0.6, 0.35, 0.1, -0.15]], [6.75, [0.5, 0.25, 0, -0.25]],
  [7.25, [0.4, 0.15, -0.1, -0.35]], [7.75, [0.25, 0.05, -0.15, -0.4]], [8.25, [0.15, -0.05, -0.25, -0.45]],
  [8.75, [0.1, -0.1, -0.3, -0.5]], [9.35, [-0.05, -0.25, -0.45, -0.6]], [10.05, [0.05, -0.15, -0.35, -0.55]],
  [10.75, [-0.05, -0.25, -0.45, -0.65]], [11.45, [-0.15, -0.35, -0.55]], [12.15, [-0.1, -0.3, -0.5, -0.65]],
  [12.85, [-0.1, -0.3, -0.5]], [13.55, [-0.1, -0.3, -0.5, -0.65]], [14.25, [-0.1, -0.3, -0.5]],
  [14.95, [-0.1, -0.3, -0.5, -0.65]], [15.65, [-0.1, -0.3, -0.5]], [16.35, [-0.1, -0.3, -0.5, -0.62]],
  [17.05, [-0.1, -0.3, -0.5]], [17.75, [-0.15, -0.35, -0.55]], [18.45, [-0.05, -0.25, -0.45]],
  [19.15, [-0.05, -0.25, -0.45, -0.58]], [19.85, [-0.05, -0.25, -0.45]], [20.55, [-0.05, -0.25, -0.45, -0.58]],
  [21.25, [0, -0.2, -0.4]], [21.95, [0, -0.2, -0.4, -0.52]], [22.65, [0, -0.2, -0.4]], [23.25, [0, -0.2, -0.4]],
];
const b5Pts: Pt[] = [
  [0, 5.05], [0, 3.8], [0, 2.75], [0, 2.1], [0, 1.9], [2.3, 2.05], [2.8, 2.8], [2.9, 4.6], [3, 5.4],
  [3.2, 5.3], [3.3, 5.2], [3.5, 4.7], [3.3, 4.3], [3.8, 4.2], [4.1, 5.65], [4.2, 5.4], [4.3, 5.25],
  [4.3, 5.0], [4.2, 4.75], [4.5, 3.9], [4.9, 3.9], [4.6, 3.2], [3.0, 1.6], [3.1, 1.2], [3.5, 1.0],
  [3.9, 0.7], [4.2, 0.95], [4.5, 0.35], [5.7, 1.35], [6.5, 0.8], [7, 0.9], [7.5, 0.5], [8, 0.45],
  [8.5, 0.3], [9.5, 0.2], [10, -0.65], [11, -0.75], [15.4, -0.82], [13, -0.7], [17, -0.68], [20, -0.6],
  [22, 0.05], [23.3, 0.2], [22.8, -0.55], [23.8, -0.5], [23.8, -0.2], [23.8, 0.1], [23.9, 0.4],
  [24, 0.7], [24, 0.55], [24.2, 0.9], [24.2, 1.2], [24.4, 1.95], [24.5, 1.6], [24.6, 0.3], [24.8, 2.5],
  [24.7, 0.8], [25, 2.15], [25, 1.5], [25.2, 0.9], [25.3, 0.5], [25.5, 1.7], [25.6, 1.2], [25.8, 0.7],
  [25.8, 2.05], [26, 0.95], [26, 0.4], [26.2, 1.45], [26.4, 0.9], [26.5, 2.05], [26.6, 0.6],
  [26.8, 0.45], [27, 2.1], [27.2, 0.25], [26.9, 1.0], [25.1, 0.2], [24.3, 0.25], [24.1, -0.1],
  [24.9, 1.0], [3.4, 3.6], [3.7, 2.9], [3.9, 3.3], [4.7, 2.4], [5, 1.9], [5.4, 1.1],
];

// ---------- Britned 6 : Gas generation (CE) ----------
const b6Cols: Col[] = [
  [12, [0, -0.2, -0.4, -0.6]], [14, [0.1, -0.1, -0.3, -0.5, -0.7, -0.9]],
  [16, [0.2, 0, -0.2, -0.4, -0.6, -0.8, -1, -1.2]], [18, [0.1, -0.1, -0.3, -0.5, -0.7, -0.9, -1.1]],
  [20, [0.1, -0.1, -0.3, -0.5]], [22, [0.05, -0.15, -0.35]], [24, [0, -0.15, -0.3, -0.45]],
  [26, [0.05, -0.1, -0.25, -0.4]], [28, [0.05, -0.1, -0.25, -0.4]], [30, [0.1, -0.05, -0.2, -0.35]],
  [32, [0.1, -0.05, -0.2, -0.35]], [34, [0.15, 0, -0.15, -0.3]], [36, [0.15, 0, -0.15, -0.3]],
  [38, [0.2, 0.05, -0.1, -0.25]], [40, [0.15, 0, -0.15, -0.3]], [42, [0.2, 0.05, -0.1, -0.25]],
  [44, [0.2, 0.05, -0.1, -0.25]], [46, [0.25, 0.1, -0.05, -0.2]], [48, [0.25, 0.1, -0.05, -0.2]],
  [50, [0.3, 0.15, 0, -0.15]], [52, [0.3, 0.15, 0, -0.15]], [54, [0.3, 0.1, -0.1]],
  [56, [0.5, 0.3, 0.1]], [58, [0.8, 0.6, 0.4, 0.2]], [60, [1.4, 1.1, 0.8, 0.5]], [61, [2, 1.7, 1.4]],
  [62, [2.4, 2.1, 1.8, 1.5]], [64, [2.3, 2, 1.7, 1.4]],
];
const b6ColsB: Col[] = [
  [13, [0.05, -0.15, -0.35, -0.55, -0.75]], [15, [0.15, -0.05, -0.25, -0.45, -0.65, -0.85, -1.05]],
  [17, [0.15, -0.05, -0.25, -0.45, -0.65, -0.85, -1.05, -1.2]], [19, [0.05, -0.15, -0.35, -0.55, -0.75, -0.95]],
  [21, [0.1, -0.1, -0.3, -0.45]], [23, [0.05, -0.1, -0.25, -0.4]], [25, [0.1, -0.05, -0.2, -0.35, -0.45]],
  [27, [0.1, -0.05, -0.2, -0.35]], [29, [0.1, -0.05, -0.2, -0.35]], [31, [0.15, 0, -0.15, -0.3]],
  [33, [0.15, 0, -0.15, -0.3]], [35, [0.2, 0.05, -0.1, -0.25]], [37, [0.2, 0.05, -0.1, -0.25]],
  [39, [0.2, 0.05, -0.1, -0.25]], [41, [0.2, 0.05, -0.1, -0.25]], [43, [0.25, 0.1, -0.05, -0.2]],
  [45, [0.25, 0.1, -0.05, -0.2]], [47, [0.3, 0.15, 0, -0.15]], [49, [0.3, 0.15, 0, -0.15]],
  [51, [0.35, 0.2, 0.05, -0.1]], [53, [0.35, 0.2, 0, -0.15]], [55, [0.45, 0.25, 0.05, -0.1]],
  [57, [0.65, 0.45, 0.25, 0.05]], [59, [1.1, 0.8, 0.5, 0.3]], [63, [2.2, 1.9, 1.6, 1.3]], [65, [2.1, 1.8, 1.5]],
];
const b6Pts: Pt[] = [
  [57, -0.15], [58, 0.2], [59, 1], [60, 1.3], [61, 0.7], [60.5, 2.5], [61.5, 2.9], [62, 2.2],
  [62.5, 3.4], [63, 2.6], [63.5, 2.3], [64, 4.3], [64.5, 1.9], [65, 3.6], [65.5, 3], [66, 2.7],
  [66.5, 1.5], [67, 3.4], [67.5, 2.5], [68, 2.9], [68.5, 1.9], [69, 3.7], [69.5, 2.3], [70, 2.8],
  [70.5, 1.9], [71, 3.2], [71.5, 2.1], [72, 2.6], [72.5, 1.7], [73, 2.9], [73.5, 3.9], [74, 2.2],
  [74.5, 1.4], [75, 2.4], [75.5, 1.9], [76, 1.6], [77, 2.3], [77.5, 1.3], [78, 2.6], [78.5, 2.3],
  [79, 1.1], [80, 1.3], [80.5, 2], [81, 1.6], [81.5, 3.1], [82, 1.9], [82.5, 1.5], [83, 1.55],
  [84, 1.85], [79, 1.9], [76, 1.3], [73, 1.3], [70, 1.2], [68, 1.4], [66, 1.1], [64, 1.2], [62, 1],
  [65, 0.8], [67, 1.0], [69, 0.85], [71, 1.6], [74, 1.8], [77, 1.7], [79.5, 2.3], [63, 1.6],
  [64.5, 2.7], [66, 2.2], [68, 2.2], [70, 2.5], [72, 2], [75, 1.7], [77, 2], [62, 2.6], [63, 2],
  [65, 1.5], [67, 1.8], [69, 1.6], [71, 2.4], [73, 2.3], [61, 1.9], [60, 1.7], [63, 3], [64, 3.1],
  [65, 2.4], [69, 2.9], [71.5, 2.8], [70.5, 3.3],
  [13, -0.8], [13.5, -1.2], [14, -1.8], [15, -2.1], [15.5, -1.4], [16.5, -1.55], [17, -1.7],
  [18, -1.9], [19, -1.6], [19.5, -1.3], [20, -1.2], [18.5, -1.5], [17.5, -1.3], [21, -0.4], [17, 0.5],
  [19, 0.45], [16, 0.3], [12, 0.2], [11, -0.1], [11.5, -0.3], [25, -0.55], [30, -0.45], [35, 0.45],
  [37, 0.4], [40, -0.55], [42, 0.5], [44, 0.55], [46, 0.6], [48, 0.65], [50, 0.45], [52, 0.5],
  [55, -0.2], [56, -0.25],
];

// ---------- Kontiskan 5 : Integral (Nordic) ----------
const k5Cols: Col[] = [
  [-210, [18, 15, 12]], [-190, [20, 17, 14, 11, 8]], [-170, [21, 18, 15, 12, 9, 6]],
  [-150, [22, 19, 16, 13, 10, 7, 4]], [-130, [21, 18, 15, 12, 9, 6]], [-110, [22, 19, 16, 13, 10, 7, 4]],
  [-90, [21, 18, 15, 12, 9, 6]], [-70, [20, 17, 14, 11, 8, 5]], [-50, [18, 15, 12, 9, 6, 3]],
  [-30, [8, 5, 2, -1]], [-10, [5, 2, -1, -4]], [10, [3, 0, -3, -6]], [30, [1, -2, -5, -8]],
  [50, [0, -3, -6, -9]], [70, [-2, -5, -8, -11]], [90, [-1, -4, -7, -10, -13]],
  [110, [-3, -6, -9, -12, -15, -18]], [130, [-1, -4, -7, -10, -13, -16, -19, -22]],
  [150, [-2, -5, -8, -11, -14, -17, -20]], [170, [-4, -7, -10, -13, -16, -19, -22]],
  [190, [-8, -11, -14, -17, -20]],
];
const k5ColsB: Col[] = [
  [-200, [19.5, 16.5, 13.5, 10.5]], [-180, [20.5, 17.5, 14.5, 11.5, 8.5, 5.5]],
  [-160, [21.5, 18.5, 15.5, 12.5, 9.5, 6.5, 3.5]], [-140, [21.5, 18.5, 15.5, 12.5, 9.5, 6.5, 3.5]],
  [-120, [22.5, 19.5, 16.5, 13.5, 10.5, 7.5, 4.5]], [-100, [21.5, 18.5, 15.5, 12.5, 9.5, 6.5, 3.5]],
  [-80, [20.5, 17.5, 14.5, 11.5, 8.5, 5.5]], [-60, [19.5, 16.5, 13.5, 10.5, 7.5, 4.5]],
  [-40, [14, 11, 8, 5, 2]], [-20, [6.5, 3.5, 0.5, -2.5]], [0, [4, 1, -2, -5]], [20, [2, -1, -4, -7]],
  [40, [0.5, -2.5, -5.5, -8.5]], [60, [-1.5, -4.5, -7.5, -10.5]], [80, [-0.5, -3.5, -6.5, -9.5, -12.5]],
  [100, [-2, -5, -8, -11, -14, -17]], [120, [-0.5, -3.5, -6.5, -9.5, -12.5, -15.5, -18.5, -21.5]],
  [140, [-1.5, -4.5, -7.5, -10.5, -13.5, -16.5, -19.5, -22.5]],
  [160, [-3.5, -6.5, -9.5, -12.5, -15.5, -18.5, -21.5]],
  [180, [-5.5, -8.5, -11.5, -14.5, -17.5, -20.5, -23.5]], [200, [-12.5, -15.5, -18.5, -21.5]],
];
const k5Pts: Pt[] = [
  [-335, 12], [-320, 8], [-305, 7], [-290, 9], [-275, 20], [-270, 6], [-265, 12.5], [-260, 17],
  [-255, 22], [-250, 15], [-240, 10], [-235, 6], [-230, 8], [-225, 25], [-220, 36.5], [-215, 29],
  [-205, 26], [-200, 30], [-190, 33], [-185, 32.5], [-180, 36.5], [-175, 30], [-165, 28], [-160, 25],
  [-145, 26], [-140, 22], [-125, 24], [-120, 26.5], [-110, 24.5], [-100, 27], [-90, 26], [-85, 24],
  [-80, 28.5], [-70, 26], [-60, 22], [-50, 20], [-170, 2], [-150, 3], [-120, 1.5], [-90, 2], [-60, 2],
  [-45, 15], [-55, 10], [-5, -14], [0, 8], [20, -10], [40, -12], [60, -17], [80, -14], [100, -4],
  [120, -34], [120, -26], [110, -25], [130, -24], [150, 1.5], [160, -24], [170, -26], [180, -25],
  [190, -23], [200, -30], [200, -21], [205, -40], [210, -41], [210, -47], [215, -37], [215, -29],
  [220, -33], [225, -38], [230, -23], [230, -33], [235, -30], [240, -36], [240, -26], [245, -44],
  [250, -42], [250, -32], [260, -25], [260, -44.5], [265, -35], [270, -28], [275, -43], [280, -33],
  [285, -26], [290, -30], [295, -35], [300, -24], [305, -33], [310, -27], [320, -32], [330, -24],
  [330, -35], [360, -33], [385, -44], [390, -32.5], [400, -30.5], [220, -25], [240, -17], [250, -20],
  [200, -18], [190, -5], [140, 4],
];

// ---------- Kontiskan 6 : Solar generation (Nordic) ----------
const k6Cols: Col[] = [
  [0.0, [13, 11, 9, 7, 5, 3, 1]], [0.004, [12, 10, 8, 6, 4, 2, 0.5]], [0.008, [11, 9, 7, 5, 3, 1]],
  [0.012, [10, 8, 6, 4, 2, 0]], [0.016, [7, 5, 3, 1, -1]], [0.02, [5, 3, 1, -1]],
  [0.025, [4, 2, 0, -2, -4]], [0.03, [3, 1, -1, -3]], [0.035, [2, 0, -2, -4, -6]], [0.04, [1, -1, -3, -5]],
  [0.045, [0, -2, -4, -6, -8]], [0.05, [-1, -3, -5, -7, -9]], [0.055, [-2, -4, -6, -8, -10]],
  [0.06, [-3, -5, -7, -9, -11, -13]], [0.065, [-4, -6, -8, -10, -12]], [0.07, [-5, -7, -9, -11, -13]],
  [0.075, [-8, -10, -12, -14]], [0.08, [-9, -11, -13, -15]],
];
const k6ColsB: Col[] = [
  [0.002, [12, 10, 8, 6, 4, 2]], [0.006, [13, 11, 9, 7, 5, 3, 1]], [0.01, [12, 10, 8, 6, 4, 2, 0]],
  [0.014, [9, 7, 5, 3, 1]], [0.018, [6, 4, 2, 0]], [0.0225, [4.5, 2.5, 0.5, -1.5]],
  [0.0275, [3.5, 1.5, -0.5, -2.5]], [0.0325, [2.5, 0.5, -1.5, -3.5, -5]], [0.0375, [1.5, -0.5, -2.5, -4.5]],
  [0.0425, [0.5, -1.5, -3.5, -5.5, -7]], [0.0475, [-0.5, -2.5, -4.5, -6.5, -8.5]],
  [0.0525, [-1.5, -3.5, -5.5, -7.5, -9.5]], [0.0575, [-2.5, -4.5, -6.5, -8.5, -10.5, -12]],
  [0.0625, [-3.5, -5.5, -7.5, -9.5, -11.5, -13.5]], [0.0675, [-4.5, -6.5, -8.5, -10.5, -12.5]],
  [0.0725, [-6, -8, -10, -12, -14]], [0.0775, [-8, -10, -12, -14, -16]],
];
const k6Pts: Pt[] = [
  [0.085, -7], [0.09, -10], [0.095, -16], [0.1, -12], [0.1, -18], [0.105, -14], [0.11, -20],
  [0.11, -10], [0.115, -16], [0.12, -22], [0.12, -13], [0.125, -18], [0.13, -24], [0.13, -15],
  [0.135, -20], [0.14, -27], [0.14, -17], [0.145, -22], [0.15, -13], [0.15, -25], [0.155, -19],
  [0.16, -23], [0.16, -29], [0.165, -16], [0.17, -21], [0.17, -26], [0.175, -12], [0.18, -24],
  [0.18, -19], [0.185, -28], [0.19, -22], [0.19, -33], [0.195, -26], [0.2, -24], [0.2, -30],
  [0.205, -21], [0.21, -27], [0.21, -19], [0.215, -34], [0.22, -25], [0.22, -20], [0.225, -28],
  [0.23, -23], [0.235, -26], [0.24, -30], [0.245, -27], [0.25, -28.5], [0.236, -25], [0.2, -36],
  [0.19, -41.5], [0.205, -43.5], [0.2, -51.5], [0.21, -49.5], [0.215, -43.8], [0.185, -35],
  [0.18, -38], [0.195, -37], [0.21, -37.5], [0.225, -36], [0.16, -39.5], [0.14, -38.5], [0.12, -35],
  [0.1, -39], [0.09, -39.5], [0.095, -35], [0.085, -33], [0.11, -31], [0.125, -31], [0.135, -36],
  [0.15, -35.5], [0.155, -31], [0.17, -30], [0.175, -33], [0.165, -37], [0.08, -25], [0.075, -19],
  [0.065, -21.5], [0.09, -28], [0.1, -25], [0.105, -29], [0.115, -26], [0.13, -28], [0.145, -30],
  [0.16, -27], [0.145, -7], [0.135, -11], [0.15, -9], [0.175, -12], [0.105, -6], [0.095, -9],
  [0.07, -2], [0.065, -1.5], [0.125, -20], [0.14, -22], [0.15, -19], [0.16, -16], [0.17, -18],
  [0.18, -15], [0.19, -17], [0.2, -19], [0.21, -21], [0.22, -23], [0.23, -26], [0.24, -24],
  [0.215, -29], [0.225, -31], [0.185, -30], [0.155, -24], [0.13, -20], [0.12, -17], [0.11, -15],
  [0.1, -21], [0.09, -19], [0.085, -15], [0.095, -23], [0.175, -25], [0.165, -22], [0.195, -21],
  [0.205, -25], [0.23, -20], [0.22, -30], [0.24, -34], [0.15, -28], [0.14, -33], [0.125, -25],
  [0.11, -23], [0.09, -13], [0.1, -8], [0.115, -11], [0.13, -9], [0.085, -20], [0.095, -4],
];

// ---------- axis ticks & titles ----------
const xTicksList: number[][] = [
  [-400, -200, 0, 200, 400], [-1, -0.5, 0, 0.5, 1], [-0.5, 0, 0.5], [-20, -10, 0, 10],
  [10, 20, 30, 40], [1, 1.5, 2], [0, 2, 4, 6, 8], [20, 30, 40],
  [0, 10, 20], [20, 40, 60, 80], [-200, 0, 200, 400], [0, 0.1, 0.2],
];
const yTicksList: number[][] = [
  [-20, -10, 0, 10, 20, 30], [-40, -30, -20, -10, 0, 10, 20], [-100, -50, 0, 50, 100], [-100, 0, 100, 200],
  [-5, 0, 5], [-4, -2, 0, 2, 4], [-40, -20, 0, 20, 40], [-40, -20, 0, 20, 40, 60],
  [0, 2, 4, 6], [-2, 0, 2, 4], [-40, -20, 0, 20, 40], [-40, -20, 0],
];
const xTitles: string[][] = [
  ['Integral (GB)'], ['Britned scheduled inflow', '(GB) [GW]'],
  ['Kontiskan scheduled inflow', '(Nordic) [GW]'], ['Forecast error generation', '(Nordic) [GW]'],
  ['Other generation', '(CE) [GW]'], ['Waste generation', '(CE) [GW]'],
  ['Offshore Wind generation', '(CE) [GW]'], ['Lignite generation', '(CE) [GW]'],
  ['Gas generation', '(GB) [GW]'], ['Gas generation', '(CE) [GW]'],
  ['Integral (Nordic)'], ['Solar generation', '(Nordic) [GW]'],
];
const panelNumbers = ['1', '2', '1', '2', '3', '4', '3', '4', '5', '6', '5', '6'];
const legendLabels = ['Frequency Indicator', 'HVDC Flow', 'Generation/Load'];

const flat = (cols: Col[]): Pt[] => cols.flatMap(([x, ys]) => ys.map((y) => [x, y] as Pt));
const flatRows = (rows: Col[]): Pt[] => rows.flatMap(([y, xs]) => xs.map((x) => [x, y] as Pt));

interface PanelDef {
  xd: [number, number];
  yd: [number, number];
  color: string;
  pts: Pt[];
}

const panelDefs: PanelDef[] = [
  { xd: [-487, 501], yd: [-27.9, 33.4], color: RED, pts: [...flat(b1Cols), ...flat(b1ColsB), ...b1Pts] },
  { xd: [-1.176, 1.257], yd: [-43.2, 22.4], color: GREEN, pts: [...flat(b2Cols), ...b2Pts] },
  { xd: [-0.828, 0.856], yd: [-146.6, 141.6], color: GREEN, pts: [...flat(k1Cols), ...flat(k1ColsB), ...k1Pts] },
  { xd: [-24.1, 17.9], yd: [-125.3, 268.9], color: BLUE, pts: [...flatRows(k2Rows), ...flatRows(k2RowsB), ...k2Pts] },
  { xd: [0.62, 47.86], yd: [-6.34, 9.62], color: BLUE, pts: [...flat(b3Cols), ...flat(b3ColsB), ...b3Pts] },
  { xd: [0.867, 2.186], yd: [-4.31, 5.1], color: BLUE, pts: [...flat(b4Cols), ...flat(b4ColsB), ...b4Pts] },
  { xd: [-0.625, 9.09], yd: [-52.2, 44.0], color: BLUE, pts: [...flat(k3Cols), ...flat(k3ColsB), ...k3Pts] },
  { xd: [11.56, 44.18], yd: [-58.0, 64.5], color: BLUE, pts: [...flat(k4Cols), ...flat(k4ColsB), ...k4Pts] },
  { xd: [-2.0, 29.1], yd: [-1.27, 6.17], color: BLUE, pts: [...flat(b5Cols), ...flat(b5ColsB), ...b5Pts] },
  { xd: [5.78, 89.8], yd: [-2.59, 4.78], color: BLUE, pts: [...flat(b6Cols), ...flat(b6ColsB), ...b6Pts] },
  { xd: [-394, 463], yd: [-53.1, 43.1], color: RED, pts: [...flat(k5Cols), ...flat(k5ColsB), ...k5Pts] },
  { xd: [-0.0188, 0.267], yd: [-55.85, 18.1], color: BLUE, pts: [...flat(k6Cols), ...flat(k6ColsB), ...k6Pts] },
];

// ---------- layout ----------
const COL_X = [120.7, 444, 820.7, 1144];
const ROW_Y = [116, 541, 967.3];
const PW = 258;
const PH = 270;
const FONT = '"Open Sans", "Noto Sans", sans-serif';
const GRID = '#e8eef7';

const fmt = (v: number) => String(v).replace('-', '\u2212');

function Panel({ idx }: { idx: number }) {
  const def = panelDefs[idx];
  const r = Math.floor(idx / 4);
  const c = idx % 4;
  const left = COL_X[c];
  const top = ROW_Y[r];
  const x = d3.scaleLinear().domain(def.xd).range([left, left + PW]);
  const y = d3.scaleLinear().domain(def.yd).range([top + PH, top]);
  const xt = xTicksList[idx];
  const yt = yTicksList[idx];
  const clipId = `clip${idx}`;
  const titles = xTitles[idx];
  return (
    <g>
      <defs>
        <clipPath id={clipId}>
          <rect x={left} y={top} width={PW} height={PH} />
        </clipPath>
      </defs>
      <rect x={left} y={top} width={PW} height={PH} fill="#fff" />
      {xt.map((t) => (
        <line key={'gx' + t} x1={x(t)} x2={x(t)} y1={top} y2={top + PH} stroke={GRID} strokeWidth={t === 0 ? 2.5 : 1} />
      ))}
      {yt.map((t) => (
        <line key={'gy' + t} x1={left} x2={left + PW} y1={y(t)} y2={y(t)} stroke={GRID} strokeWidth={t === 0 ? 2.5 : 1} />
      ))}
      <g clipPath={`url(#${clipId})`}>
        {def.pts.map((p, i) => (
          <circle key={i} cx={x(p[0])} cy={y(p[1])} r={2.8} fill={def.color} fillOpacity={0.82} />
        ))}
      </g>
      <rect x={left} y={top} width={PW} height={PH} fill="none" stroke="#444" strokeWidth={1.5} />
      {xt.map((t) => (
        <g key={'tx' + t}>
          <line x1={x(t)} x2={x(t)} y1={top + PH} y2={top + PH + 5} stroke="#444" strokeWidth={1} />
          <text x={x(t)} y={top + PH + 32} textAnchor="middle" fontSize={20} fill="#222" fontFamily={FONT}>
            {fmt(t)}
          </text>
        </g>
      ))}
      {yt.map((t) => (
        <g key={'ty' + t}>
          <line x1={left - 5} x2={left} y1={y(t)} y2={y(t)} stroke="#444" strokeWidth={1} />
          <text x={left - 9} y={y(t) + 7} textAnchor="end" fontSize={20} fill="#222" fontFamily={FONT}>
            {fmt(t)}
          </text>
        </g>
      ))}
      <text x={left + 14} y={top + 44} fontSize={40} fontWeight="bold" fill="#000" fontFamily={FONT}>
        {panelNumbers[idx]}
      </text>
      {titles.map((s, i) => (
        <text key={s} x={left + PW / 2} y={top + PH + 101 + i * 32} textAnchor="middle" fontSize={24} fill="#222" fontFamily={FONT}>
          {s}
        </text>
      ))}
    </g>
  );
}

const yTitleX = [[26, 56], [26, 56], [36, 66]];

export default function App() {
  return (
    <svg
      width={1416}
      height={1490}
      style={{ position: 'absolute', left: 0, top: 0, background: '#fff' }}
      fontFamily={FONT}
    >
      <rect x={0} y={0} width={1416} height={1490} fill="#fff" />
      <text x={401} y={84} textAnchor="middle" fontSize={48} fontWeight="bold" fill="#000">Britned</text>
      <text x={1121} y={84} textAnchor="middle" fontSize={48} fontWeight="bold" fill="#000">Kontiskan</text>
      <line x1={748} x2={748} y1={0} y2={1405} stroke="#000" strokeWidth={1.5} />
      {ROW_Y.map((t, r) => {
        const cy = t + PH / 2;
        return (
          <g key={'yt' + r}>
            <text transform={`translate(${yTitleX[r][0]},${cy}) rotate(-90)`} textAnchor="middle" fontSize={24} fill="#222">
              SHAP value
            </text>
            <text transform={`translate(${yTitleX[r][1]},${cy}) rotate(-90)`} textAnchor="middle" fontSize={24} fill="#222">
              (unscheduled Outflow) [MW]
            </text>
          </g>
        );
      })}
      {panelDefs.map((_, i) => (
        <Panel key={i} idx={i} />
      ))}
      <rect x={382} y={1405} width={758} height={82} fill="#fff" stroke="#000" strokeWidth={1.5} />
      <text x={408} y={1439} fontSize={23} fontWeight="bold" fill="#000">Feature type</text>
      {[RED, GREEN, BLUE].map((col, i) => {
        const cx = [425, 715, 905][i];
        return (
          <g key={col}>
            <circle cx={cx} cy={1464} r={10} fill={col} />
            <text x={cx + 25} y={1472} fontSize={24} fill="#222">{legendLabels[i]}</text>
          </g>
        );
      })}
    </svg>
  );
}
